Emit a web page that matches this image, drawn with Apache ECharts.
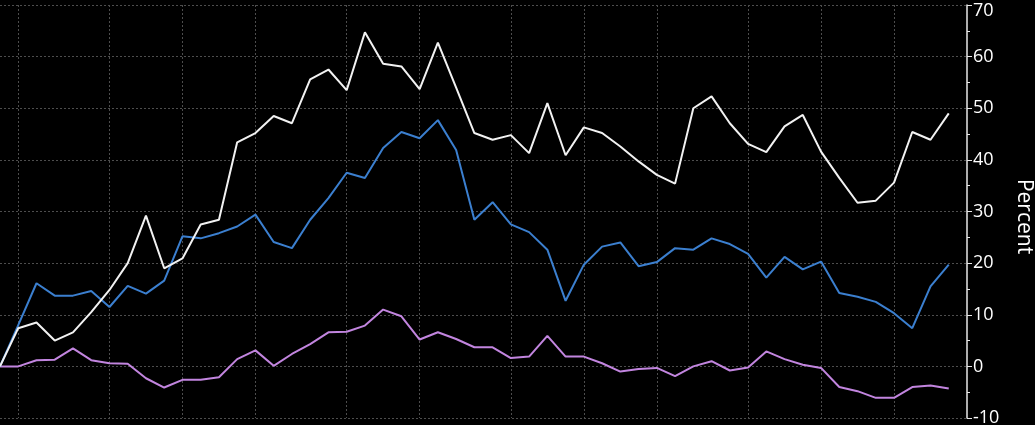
<!DOCTYPE html>
<html>
<head>
<meta charset="utf-8">
<script src="https://cdn.jsdelivr.net/npm/echarts@6/dist/echarts.min.js"></script>
<style>
html,body{margin:0;padding:0;background:#000;}
#chart{width:1035px;height:425px;}
</style>
</head>
<body>
<div id="chart"></div>
<script>
// Weekly categories (index 0..53; last one is the axis end)
const categories = ["W0","W1","W2","W3","W4","W5","W6","W7","W8","W9","W10","W11","W12","W13","W14","W15","W16","W17","W18","W19","W20","W21","W22","W23","W24","W25","W26","W27","W28","W29","W30","W31","W32","W33","W34","W35","W36","W37","W38","W39","W40","W41","W42","W43","W44","W45","W46","W47","W48","W49","W50","W51","W52","W53"];
// Indices where vertical gridlines fall (month starts)
const gridWeeks = [1, 6, 10, 14, 19, 23, 28, 32, 36, 41, 45, 49];

const whiteSeries = [0, 7.4, 8.5, 5.0, 6.6, 10.5, 14.8, 20.0, 29.2, 19.0, 20.9, 27.5, 28.4, 43.4, 45.2, 48.5, 47.1, 55.6, 57.5, 53.5,
  64.7, 58.6, 58.1, 53.7, 62.7, 54.0, 45.2, 43.9, 44.8, 41.3, 51.0, 40.9, 46.3, 45.2, 42.6, 39.7, 37.1, 35.4,
  50.0, 52.3, 47.1, 43.1, 41.5, 46.5, 48.7, 41.6, 36.5, 31.7, 32.1, 35.6, 45.4, 43.9, 49.0];
const blueSeries = [0, 8.0, 16.1, 13.7, 13.7, 14.6, 11.5, 15.6, 14.1, 16.6, 25.2, 24.8, 25.8, 27.1, 29.4, 24.1, 22.9, 28.4, 32.6, 37.5,
  36.5, 42.3, 45.4, 44.2, 47.7, 41.9, 28.4, 31.8, 27.5, 26.0, 22.6, 12.7, 19.7, 23.2, 24.0, 19.4, 20.2, 22.9,
  22.6, 24.8, 23.7, 21.8, 17.2, 21.2, 18.8, 20.3, 14.2, 13.5, 12.5, 10.3, 7.4, 15.5, 19.7];
const purpleSeries = [0, 0, 1.2, 1.3, 3.5, 1.2, 0.6, 0.5, -2.3, -4.1, -2.6, -2.6, -2.1, 1.4, 3.1, 0.1, 2.4, 4.3, 6.6, 6.7,
  7.9, 11.0, 9.7, 5.2, 6.6, 5.3, 3.7, 3.7, 1.6, 1.9, 5.9, 1.9, 1.9, 0.6, -1.0, -0.5, -0.3, -1.9,
  0, 1.0, -0.8, -0.2, 2.9, 1.4, 0.3, -0.3, -4.0, -4.8, -6.1, -6.1, -4.0, -3.7, -4.3];

const yMin = -10, yMax = 70;

const chart = echarts.init(document.getElementById('chart'), null, {renderer: 'canvas'});
const gridColor = '#4d4d4d';
chart.setOption({
  backgroundColor: '#000000',
  animation: false,
  grid: {left: 0, right: 68, top: 5, bottom: 7, outerBoundsMode: 'none', containLabel: false},
  xAxis: {
    type: 'category',
    data: categories,
    boundaryGap: false,
    axisLine: {show: false},
    axisTick: {show: false},
    axisLabel: {show: false},
    splitLine: {
      show: true,
      interval: function (idx) { return gridWeeks.indexOf(idx) !== -1; },
      lineStyle: {color: gridColor, type: [2, 2], width: 1}
    }
  },
  yAxis: {
    type: 'value',
    position: 'right',
    min: yMin, max: yMax, interval: 10,
    name: 'Percent',
    nameLocation: 'middle',
    nameRotate: -90,
    nameGap: 46,
    nameTextStyle: {color: '#ffffff', fontSize: 21, fontFamily: 'Open Sans', padding: [0, 0, 0, 10]},
    axisLine: {show: true, lineStyle: {color: '#e8e8e8', width: 1.5}},
    axisTick: {show: true, inside: false, length: 5, lineStyle: {color: '#e8e8e8'}},
    minorTick: {show: true, splitNumber: 2, length: 3, lineStyle: {color: '#e8e8e8'}},
    axisLabel: {
      color: '#ffffff', fontSize: 18, fontFamily: 'Open Sans', margin: 6,
      formatter: function (v) { return v === yMax ? '{t|' + v + '}' : String(v); },
      rich: {t: {color: '#ffffff', fontSize: 18, fontFamily: 'Open Sans', padding: [12, 0, 0, 0]}}
    },
    splitLine: {show: true, lineStyle: {color: gridColor, type: [2, 2], width: 1}}
  },
  series: [
    {type: 'line', name: 'white', data: whiteSeries, symbol: 'none', lineStyle: {color: '#f2f2f2', width: 2}, z: 3},
    {type: 'line', name: 'blue', data: blueSeries, symbol: 'none', lineStyle: {color: '#3b7fcf', width: 2}, z: 2},
    {type: 'line', name: 'purple', data: purpleSeries, symbol: 'none', lineStyle: {color: '#c285df', width: 2}, z: 1}
  ]
});
</script>
</body>
</html>
